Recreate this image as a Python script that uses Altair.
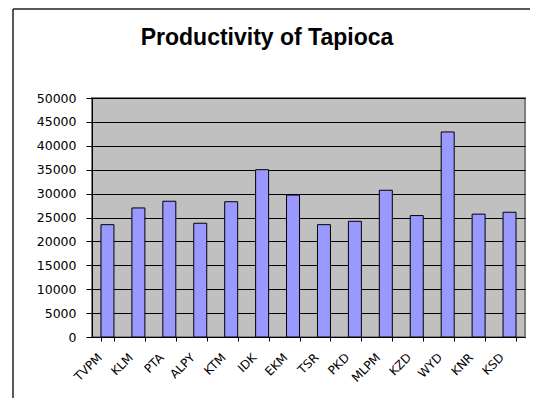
import altair as alt
import pandas as pd

districts = ["TVPM", "KLM", "PTA", "ALPY", "KTM", "IDK", "EKM",
             "TSR", "PKD", "MLPM", "KZD", "WYD", "KNR", "KSD"]
productivity = [23500, 27000, 28400, 23800, 28300, 35000, 29700,
                23500, 24200, 30700, 25400, 42900, 25700, 26100]
y_ticks = [0, 5000, 10000, 15000, 20000, 25000, 30000, 35000, 40000, 45000, 50000]
title_text = "Productivity of Tapioca"

df = pd.DataFrame({"district": districts, "productivity": productivity})

FONT = "Liberation Sans"
LABEL_FONT = "DejaVu Sans"

bars = alt.Chart(df).mark_bar(color="#9999FF", stroke="black", strokeWidth=1).encode(
    x=alt.X("district:N", sort=districts, title=None,
            scale=alt.Scale(paddingInner=0.58, paddingOuter=0.29),
            axis=alt.Axis(labelAngle=-45, labelAlign="right", labelBaseline="middle",
                          labelFontSize=12, labelFont=LABEL_FONT, labelColor="black",
                          tickBand="extent", tickSize=4, tickColor="black",
                          domainColor="black", labelPadding=14, labelOffset=-8,
                          grid=False)),
    y=alt.Y("productivity:Q", title=None,
            scale=alt.Scale(domain=[0, 50000], nice=False),
            axis=alt.Axis(values=y_ticks, format="d", grid=True, gridColor="black",
                          gridWidth=1.2, tickSize=6, tickColor="black",
                          domainColor="black", labelFontSize=12.5, labelFont=LABEL_FONT,
                          labelColor="black", labelPadding=10))
)

one = pd.DataFrame({"f": [0]})
frame_left = alt.Chart(one).mark_rule(color="#222222", strokeWidth=1.5).encode(
    x=alt.value(-79), y=alt.value(-89), y2=alt.value(300))
frame_top = alt.Chart(one).mark_rule(color="#222222", strokeWidth=1.5).encode(
    x=alt.value(-79), x2=alt.value(438), y=alt.value(-89))

title = alt.Chart(pd.DataFrame({"t": [title_text]})).mark_text(
    font=FONT, fontSize=23, fontWeight="bold", color="black",
    align="center", baseline="alphabetic"
).encode(text="t:N", x=alt.value(175), y=alt.value(-53))

chart = alt.layer(frame_left, frame_top, bars, title).properties(
    width=433, height=239,
    padding={"left": 84, "top": 90, "right": 5, "bottom": 61},
    autosize="none",
).configure_view(stroke="#808080", strokeWidth=2, fill="#C0C0C0")

chart.save("out.html", embed_options={"renderer": "svg", "actions": False})
